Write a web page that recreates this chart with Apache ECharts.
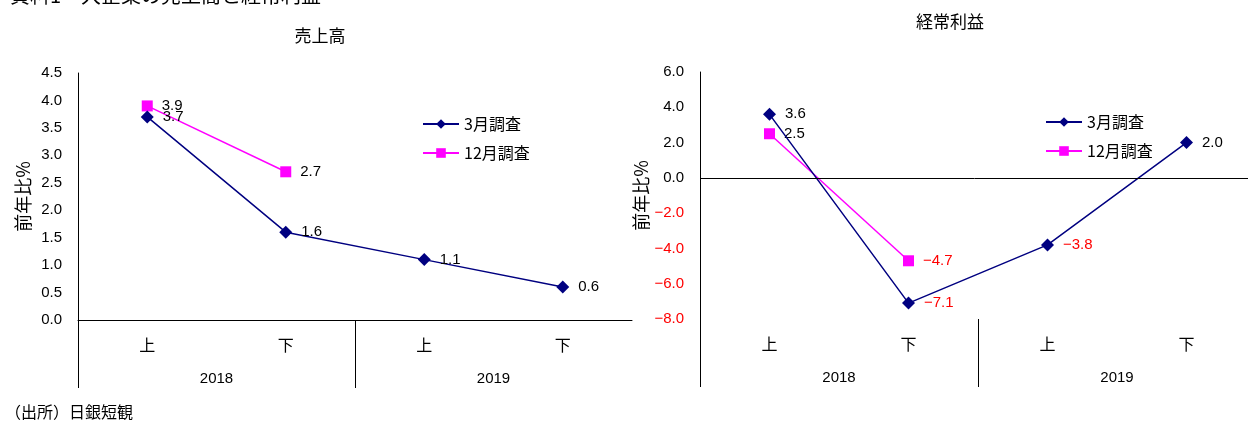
<!DOCTYPE html>
<html>
<head>
<meta charset="utf-8">
<script src="https://cdn.jsdelivr.net/npm/echarts@6/dist/echarts.min.js"></script>
<style>
html,body{margin:0;padding:0;background:#fff;}
#c{width:1248px;height:424px;}
</style>
</head>
<body>
<div id="c"></div>
<script>
// ---- data ----
const categories = ['上', '下', '上', '下'];
const years = ['2018', '2019'];
const seriesNames = ['3月調査', '12月調査'];
const salesMarch = [3.7, 1.6, 1.1, 0.6];
const salesDec = [3.9, 2.7, null, null];
const profitMarch = [3.6, -7.1, -3.8, 2.0];
const profitDec = [2.5, -4.7, null, null];
const salesAxis = { min: 0, max: 4.5, interval: 0.5 };
const profitAxis = { min: -8, max: 6, interval: 2 };
const mainTitle = '資料1　大企業の売上高と経常利益';
const chartTitles = ['売上高', '経常利益'];
const yName = '前年比%';
const sourceNote = '（出所）日銀短観';

// ---- styles ----
const NUM_FONT = '"Liberation Sans", "Noto Sans CJK JP", sans-serif';
const JP_FONT = '"Noto Sans CJK JP", sans-serif';
const NAVY = '#000080';
const MAGENTA = '#FF00FF';

function fmt(v) {
  if (v == null) return '';
  return v < 0 ? '\u2212' + Math.abs(v).toFixed(1) : v.toFixed(1);
}

const chart = echarts.init(document.getElementById('c'), null, { renderer: 'canvas' });

const grids = [
  { left: 78, top: 73, width: 554, height: 247, outerBoundsMode: 'none', containLabel: false },
  { left: 700, top: 72, width: 556, height: 247, outerBoundsMode: 'none', containLabel: false }
];

function xAxesFor(gi, showLine) {
  return [
    {
      gridIndex: gi, type: 'category', position: 'bottom', data: categories, boundaryGap: true,
      axisLine: { show: showLine, onZero: false, lineStyle: { color: '#000', width: 1 } },
      axisTick: { show: false },
      axisLabel: { margin: 17, fontSize: 16, color: '#000', fontFamily: JP_FONT }
    },
    {
      gridIndex: gi, type: 'category', position: 'bottom', offset: 0, data: ['', '', ''], boundaryGap: false,
      axisLine: { show: false, onZero: false },
      axisLabel: { show: false },
      axisTick: {
        show: true, length: 68, inside: false,
        interval: function (i) { return i < 2; },
        lineStyle: { color: '#000', width: 1 }
      }
    },
    {
      gridIndex: gi, type: 'category', position: 'bottom', offset: 0, data: years, boundaryGap: true,
      axisLine: { show: false, onZero: false },
      axisTick: { show: false },
      axisLabel: { margin: 51, fontSize: 15, color: '#000', fontFamily: NUM_FONT }
    }
  ];
}

function yAxisFor(gi, rng, gap) {
  return {
    gridIndex: gi, type: 'value', min: rng.min, max: rng.max, interval: rng.interval,
    name: yName, nameLocation: 'middle', nameGap: gap, nameRotate: 90,
    nameTextStyle: { fontSize: 18, color: '#000', fontFamily: JP_FONT },
    axisLine: { show: true, onZero: false, lineStyle: { color: '#000', width: 1 } },
    axisTick: { show: false },
    splitLine: { show: false },
    axisLabel: {
      margin: 16, fontSize: 15, fontFamily: NUM_FONT,
      formatter: function (v) { return fmt(v); },
      color: function (v) { return Number(v) < 0 ? '#FF0000' : '#000'; }
    }
  };
}

function labelCfg() {
  return {
    show: true, position: 'right', distance: 9, fontSize: 15, fontFamily: NUM_FONT,
    formatter: function (p) {
      const v = p.value;
      return v < 0 ? '{neg|' + fmt(v) + '}' : '{pos|' + fmt(v) + '}';
    },
    rich: {
      neg: { color: '#FF0000', fontSize: 15, fontFamily: NUM_FONT },
      pos: { color: '#000', fontSize: 15, fontFamily: NUM_FONT }
    }
  };
}

function seriesFor(gi, marchData, decData, zeroLine) {
  const xi = gi * 3;
  const march = {
    name: seriesNames[0], type: 'line', xAxisIndex: xi, yAxisIndex: gi,
    data: marchData, symbol: 'diamond', symbolSize: 13,
    itemStyle: { color: NAVY }, lineStyle: { color: NAVY, width: 1.5 },
    label: labelCfg(), animation: false, z: 3
  };
  const dec = {
    name: seriesNames[1], type: 'line', xAxisIndex: xi, yAxisIndex: gi,
    data: decData, symbol: 'rect', symbolSize: 11,
    itemStyle: { color: MAGENTA }, lineStyle: { color: MAGENTA, width: 1.5 },
    label: labelCfg(), animation: false, z: 2
  };
  if (zeroLine) {
    dec.markLine = {
      silent: true, symbol: 'none', label: { show: false },
      lineStyle: { color: '#000', width: 1, type: 'solid' },
      data: [{ yAxis: 0 }], animation: false
    };
  }
  return [march, dec];
}

function legendFor(left, top) {
  return {
    left: left, top: top, orient: 'vertical', padding: 0, itemWidth: 36, itemHeight: 12, itemGap: 13,
    data: seriesNames,
    textStyle: { fontSize: 16, color: '#000', fontFamily: JP_FONT },
    selectedMode: false
  };
}

const option = {
  animation: false,
  backgroundColor: '#fff',
  grid: grids,
  xAxis: xAxesFor(0, true).concat(xAxesFor(1, false)),
  yAxis: [yAxisFor(0, salesAxis, 46), yAxisFor(1, profitAxis, 47)],
  legend: [legendFor(422, 116), legendFor(1045, 114)],
  series: seriesFor(0, salesMarch, salesDec, false).concat(seriesFor(1, profitMarch, profitDec, true)),
  graphic: [
    { type: 'text', left: 10, top: -15, style: { text: mainTitle, font: '20px ' + JP_FONT, fill: '#000' } },
    { type: 'text', x: 320, y: 36, style: { text: chartTitles[0], font: '17px ' + JP_FONT, fill: '#000', align: 'center', verticalAlign: 'middle' } },
    { type: 'text', x: 950, y: 22, style: { text: chartTitles[1], font: '17px ' + JP_FONT, fill: '#000', align: 'center', verticalAlign: 'middle' } },
    { type: 'text', x: 5, y: 412, style: { text: sourceNote, font: '16px ' + JP_FONT, fill: '#000', align: 'left', verticalAlign: 'middle' } }
  ]
};
chart.setOption(option);
</script>
</body>
</html>
